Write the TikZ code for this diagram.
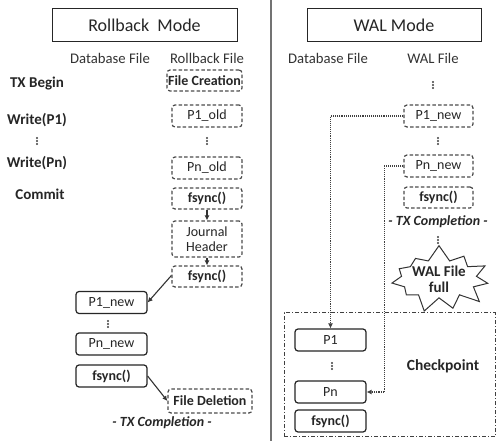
\documentclass[tikz,border=0pt]{standalone}
\usepackage{fontspec}
\setmainfont{Carlito}
\usetikzlibrary{shapes.symbols,arrows.meta}
\begin{document}
\begin{tikzpicture}[x=1pt,y=-1pt,
  every node/.style={font=\fontsize{14}{15}\selectfont, inner sep=0pt, align=center},
  title/.style={draw=black!85, line width=1pt, minimum height=33pt, font=\fontsize{18}{19}\selectfont, text=black!85},
  hdr/.style={font=\fontsize{14.7}{15}\selectfont, text=black!80},
  lbl/.style={font=\bfseries\fontsize{15}{16}\selectfont, text=black!85},
  dbox/.style={draw=black!70, line width=1.2pt, dash pattern=on 3.5pt off 2.2pt, rounded corners=3pt, minimum width=70pt, minimum height=22pt, text=black!85},
  sbox/.style={draw=black!85, line width=1.2pt, rounded corners=3pt, minimum width=71pt, minimum height=22pt, text=black!85},
  bf/.style={font=\bfseries\fontsize{14}{15}\selectfont},
  vdt/.style={minimum width=3pt, minimum height=9pt, path picture={
      \fill[black!75] ([yshift=-3pt]path picture bounding box.center) circle (1.1pt)
                      (path picture bounding box.center) circle (1.1pt)
                      ([yshift=3pt]path picture bounding box.center) circle (1.1pt);}},
  arr/.style={-{Latex[length=5pt,width=5pt]}, line width=1.1pt, draw=black!80},
  dotarr/.style={-{Latex[length=5pt,width=5pt]}, line width=1.1pt, draw=black!75, densely dotted},
  compl/.style={font=\bfseries\itshape\fontsize{14}{15}\selectfont, text=black!85}
]
\useasboundingbox (0,0) rectangle (499,441);
\fill[white] (0,0) rectangle (499,441);
% divider
\draw[line width=2pt, draw=black!55] (271,0) -- (271,441);

% ---------- Rollback ----------
\node[title, minimum width=185pt] (rbmode) at (144.5,25.5) {Rollback\ \ Mode};
\node[hdr] (rbdb) at (110,58) {Database File};
\node[hdr] (rbrf) at (207,58) {Rollback File};

\node[lbl] (txb) at (37,84) {TX Begin};
\node[lbl] (wp1) at (37,120) {Write(P1)};
\node[vdt] (vdl) at (37,141) {};
\node[lbl] (wpn) at (37,163) {Write(Pn)};
\node[lbl] (cmt) at (40,194) {Commit};

\node[dbox, bf, minimum width=75pt, minimum height=21pt] (fcr) at (204.5,80.5) {File Creation};
\node[dbox] (p1old) at (207,116) {P1\_old};
\node[vdt] (vdr) at (207,141) {};
\node[dbox] (pnold) at (207,168) {Pn\_old};
\node[dbox, bf, minimum height=21pt] (fs1) at (207,198.5) {fsync()};
\node[dbox, minimum height=36pt] (jh) at (207,239) {Journal\\Header};
\node[dbox, bf, minimum height=21pt] (fs2) at (207,276.5) {fsync()};

\node[sbox] (p1new) at (111.5,302.5) {P1\_new};
\node[vdt] (vdd) at (108,324) {};
\node[sbox] (pnnew) at (111.5,344) {Pn\_new};
\node[sbox, bf] (fsd) at (111.5,376) {fsync()};
\node[dbox, bf, minimum width=84pt, minimum height=24pt] (fdel) at (210,401) {File Deletion};
\node[compl] (txc1) at (162,423) {- TX Completion -};

\draw[arr] (fs1) -- (jh);
\draw[arr] (jh) -- (fs2);
\draw[arr] ([yshift=1pt]fs2.west) -- (p1new.east);
\draw[arr] (fsd.east) -- (fdel.west);

% ---------- WAL ----------
\node[title, minimum width=174pt] (walmode) at (394,25.5) {WAL Mode};
\node[hdr] (wdb) at (328,58) {Database File};
\node[hdr] (wwf) at (433,58) {WAL File};
\node[vdt] (vdw1) at (433,85) {};
\node[dbox, minimum width=69pt] (p1w) at (438.5,116) {P1\_new};
\node[vdt] (vdw2) at (438,141) {};
\node[dbox, minimum width=69pt] (pnw) at (438.5,166) {Pn\_new};
\node[dbox, bf, minimum width=69pt, minimum height=21pt] (fsw) at (438.5,197.5) {fsync()};
\node[compl] (txc2) at (438,222) {- TX Completion -};
\node[vdt] (vdw3) at (438,240) {};
\node[starburst, random starburst=7, starburst points=11, starburst point height=16pt, draw=black!80, line width=1pt, minimum width=88pt, minimum height=64pt, bf, font=\bfseries\fontsize{15}{16}\selectfont, text=black!85] (burst) at (439,279) {WAL File\\full};

\node[draw=black!75, line width=1pt, dash pattern=on 4pt off 2pt on 1pt off 2pt, minimum width=211pt, minimum height=124pt] (ckpt) at (389.5,375) {};
\node[font=\bfseries\fontsize{15.5}{16}\selectfont, text=black!85] (cklbl) at (443,366) {Checkpoint};
\node[sbox] (p1) at (330.5,340) {P1};
\node[vdt] (vdc) at (332,366) {};
\node[sbox] (pn) at (330.5,392) {Pn};
\node[sbox, bf] (fsc) at (330.5,421) {fsync()};

\draw[dotarr] (p1w.west) -| (p1.north);
\draw[dotarr] (pnw.west) -- ++(-19,0) |- (pn.east);
\end{tikzpicture}
\end{document}
